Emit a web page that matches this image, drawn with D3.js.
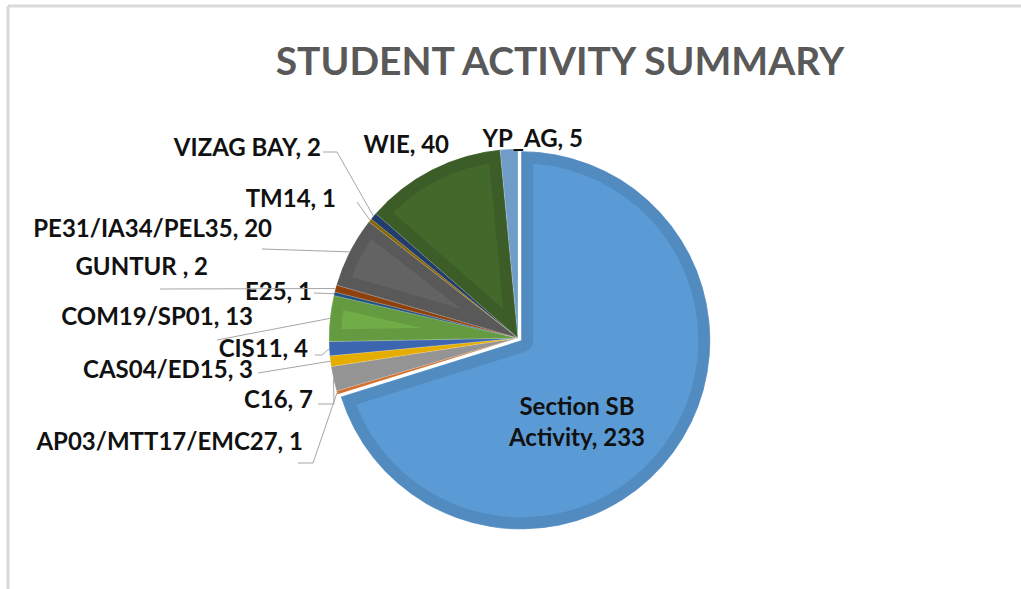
<!DOCTYPE html>
<html>
<head>
<meta charset="utf-8">
<script src="https://cdn.jsdelivr.net/npm/d3@7"></script>
<style>
  html, body { margin: 0; padding: 0; background: #fff; }
  svg { display: block; }
</style>
</head>
<body>
<div id="vis"></div>
<script>
// chart data
const categories = ["Section SB Activity", "AP03/MTT17/EMC27", "C16", "CAS04/ED15", "CIS11",
  "COM19/SP01", "E25", "GUNTUR ", "PE31/IA34/PEL35", "TM14", "VIZAG BAY", "WIE", "YP_AG"];
const values = [233, 1, 7, 3, 4, 13, 1, 2, 20, 1, 2, 40, 5];
const colors = ["#5B9BD5", "#ED7D31", "#A5A5A5", "#FFC000", "#4472C4", "#70AD47",
  "#255E91", "#9E480E", "#636363", "#997300", "#264478", "#43682B", "#7CAFDD"];
const title = "STUDENT ACTIVITY SUMMARY";

const width = 1021, height = 589;
const cx = 518, cy = 338, radius = 189;
const font = `Lato, "Open Sans", "Noto Sans", sans-serif`;
const labelSize = "24px";

// label layout: text box (anchor end at x, centre y) and leader start points
const labelLayout = {
  "Section SB Activity": { inside: true },
  "AP03/MTT17/EMC27": { x: 303, y: 440, lead: [[298, 463], [313, 463]] },
  "C16": { x: 313, y: 398, lead: [[318, 404], [334, 404]] },
  "CAS04/ED15": { x: 253, y: 368, lead: [[258, 373]] },
  "CIS11": { x: 308, y: 347, lead: [[315, 355], [322, 355]] },
  "COM19/SP01": { x: 253, y: 315, lead: [[217, 340]] },
  "E25": { x: 312, y: 290, lead: [[314, 293]] },
  "GUNTUR ": { x: 208, y: 265, lead: [[160, 289]] },
  "PE31/IA34/PEL35": { x: 272, y: 227, lead: [[262, 249]] },
  "TM14": { x: 336, y: 197, lead: [[357, 202]] },
  "VIZAG BAY": { x: 321, y: 146, lead: [[323, 152], [337, 152]] },
  "WIE": { x: 449, y: 143 },
  "YP_AG": { x: 583, y: 137 }
};

const svg = d3.select("#vis").append("svg")
  .attr("width", width)
  .attr("height", height);

// chart frame
svg.append("line")
  .attr("x1", 8).attr("x2", width).attr("y1", 6).attr("y2", 6)
  .attr("stroke", "#d9d9d9").attr("stroke-width", 3);
svg.append("line")
  .attr("x1", 8).attr("x2", 8).attr("y1", 6).attr("y2", height)
  .attr("stroke", "#d9d9d9").attr("stroke-width", 3);

svg.append("text")
  .attr("x", 560)
  .attr("y", 60)
  .attr("text-anchor", "middle")
  .attr("dominant-baseline", "central")
  .style("font-family", font)
  .style("font-weight", "bold")
  .style("font-size", "39px")
  .attr("fill", "#595959")
  .text(title);

const rows = categories.map((c, i) => ({ name: c, value: values[i], color: colors[i] }));

const pie = d3.pie().sort(null).value(d => d.value);
const arcs = pie(rows);
const arc = d3.arc().innerRadius(0).outerRadius(radius);

const g = svg.append("g").attr("transform", `translate(${cx},${cy})`);
const defs = svg.append("defs");

arcs.forEach((d, i) => {
  var mid = (d.startAngle + d.endAngle) / 2;
  var off = i === 0 ? 4 : 0;
  var dx = off * Math.sin(mid), dy = -off * Math.cos(mid);
  var sg = g.append("g").attr("transform", `translate(${dx},${dy})`);
  defs.append("clipPath").attr("id", "clip" + i)
    .append("path").attr("d", arc(d));
  sg.append("path")
    .attr("d", arc(d))
    .attr("fill", d.data.color)
    .attr("stroke", d3.color(d.data.color).darker(0.3))
    .attr("stroke-width", 24)
    .attr("stroke-linejoin", "round")
    .attr("clip-path", `url(#clip${i})`);
  sg.append("path")
    .attr("d", arc(d))
    .attr("fill", "none")
    .attr("stroke", "#fff")
    .attr("stroke-opacity", 0.35)
    .attr("stroke-width", 0.6);
});

// labels
arcs.forEach((d, i) => {
  var lay = labelLayout[d.data.name];
  var mid = (d.startAngle + d.endAngle) / 2;
  if (lay.inside) {
    var t = svg.append("text")
      .attr("text-anchor", "middle")
      .style("font-family", font)
      .style("font-weight", "bold")
      .style("font-size", labelSize)
      .attr("fill", "#111");
    t.append("tspan").attr("x", 577).attr("y", 415).text("Section SB");
    t.append("tspan").attr("x", 577).attr("y", 446).text("Activity, " + d.data.value);
    return;
  }
  if (lay.lead) {
    var pts = lay.lead.slice();
    pts.push([cx + radius * Math.sin(mid), cy - radius * Math.cos(mid)]);
    svg.append("path")
      .attr("d", d3.line()(pts))
      .attr("fill", "none")
      .attr("stroke", "#a6a6a6")
      .attr("stroke-width", 1);
  }
  svg.append("text")
    .attr("x", lay.x)
    .attr("y", lay.y)
    .attr("text-anchor", "end")
    .attr("dominant-baseline", "central")
    .style("font-family", font)
    .style("font-weight", "bold")
    .style("font-size", labelSize)
    .attr("fill", "#111")
    .text(d.data.name + ", " + d.data.value);
});
</script>
</body>
</html>
